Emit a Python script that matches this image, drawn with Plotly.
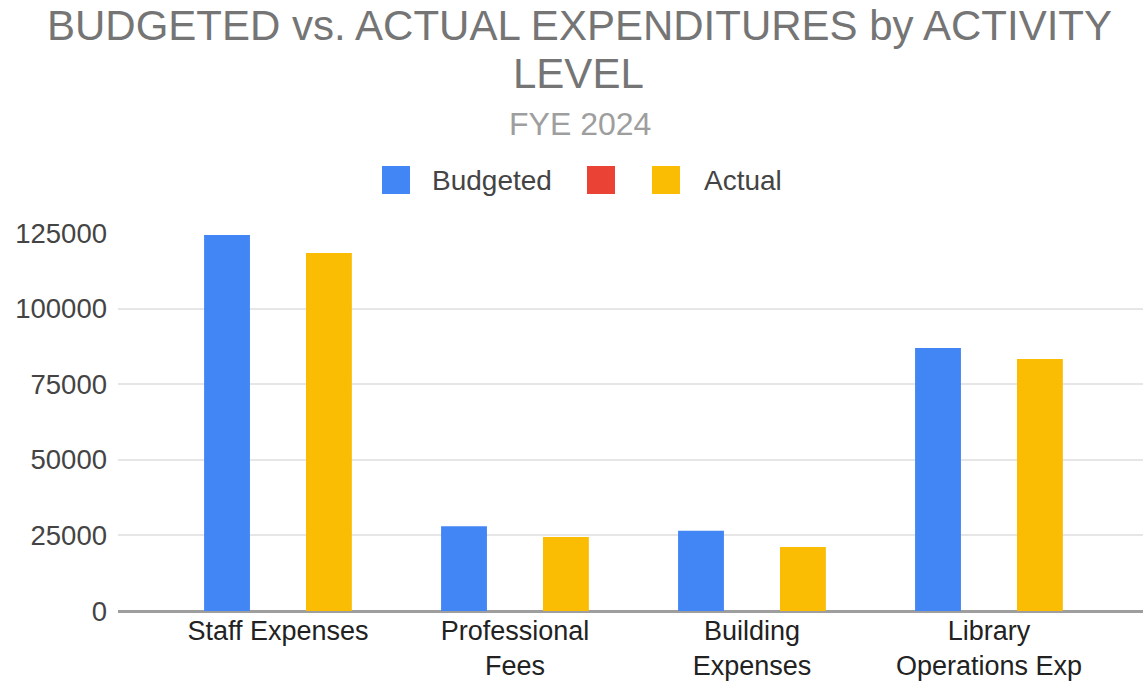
import plotly.graph_objects as go

categories = ["Staff Expenses", "Professional<br>Fees", "Building<br>Expenses", "Library<br>Operations Exp"]
budgeted = [124300, 28000, 26500, 87000]
blank_series = [0, 0, 0, 0]
actual = [118400, 24500, 21200, 83300]
y_ticks = [0, 25000, 50000, 75000, 100000, 125000]
series_names = ["Budgeted", "", "Actual"]
series_colors = ["#4285F4", "#EA4335", "#FBBC04"]

FONT = "Arial, Liberation Sans, sans-serif"

L, R, T, B = 118, 0, 233, 72
W, H = 1143, 683
PW, PH = W - L - R, H - T - B


def px(x):
    return (x - L) / PW


def py(y):
    return (H - B - y) / PH


fig = go.Figure()
for name, vals, col in zip(series_names, [budgeted, blank_series, actual], series_colors):
    fig.add_trace(go.Bar(x=categories, y=vals, name=name or " ",
                         marker=dict(color=col, line=dict(width=0)), showlegend=False))

# legend (drawn to match the large square swatches)
swatch_left = [382, 587, 652]
label_left = [430, None, 702]
shapes = []
annotations = []
for sl, ll, name, col in zip(swatch_left, label_left, series_names, series_colors):
    shapes.append(dict(type="rect", xref="paper", yref="paper",
                       x0=px(sl), x1=px(sl + 28), y0=py(194), y1=py(166),
                       fillcolor=col, line=dict(width=0), layer="above"))
    if ll is not None and name:
        annotations.append(dict(text=name, xref="paper", yref="paper", x=px(ll), y=py(180),
                                xanchor="left", yanchor="middle", showarrow=False,
                                font=dict(size=28, color="#444444", family=FONT)))

annotations += [
    dict(text="BUDGETED vs. ACTUAL EXPENDITURES by ACTIVITY", xref="paper", yref="paper",
         x=px(579), y=py(25), xanchor="center", yanchor="middle",
         showarrow=False, font=dict(size=42, color="#757575", family=FONT)),
    dict(text="LEVEL", xref="paper", yref="paper",
         x=px(578), y=py(74), xanchor="center", yanchor="middle",
         showarrow=False, font=dict(size=42, color="#757575", family=FONT)),
    dict(text="FYE 2024", xref="paper", yref="paper",
         x=px(580), y=py(124), xanchor="center", yanchor="middle",
         showarrow=False, font=dict(size=32, color="#9e9e9e", family=FONT)),
]

fig.update_layout(
    width=W, height=H,
    margin=dict(l=L, r=R, t=T, b=B),
    paper_bgcolor="white", plot_bgcolor="white",
    font=dict(family=FONT, size=27, color="#444444"),
    barmode="group", bargap=0.355, bargroupgap=0.1,
    showlegend=False,
    xaxis=dict(range=[-0.675, 3.65], showgrid=False, showline=False, zeroline=False,
               tickfont=dict(size=27, color="#222222"), ticks="", ticklabelstandoff=1,
               automargin=False),
    yaxis=dict(range=[0, 125000], tickvals=y_ticks, tickformat="d",
               showgrid=True, gridcolor="#e6e6e6", gridwidth=2,
               zeroline=True, zerolinecolor="#9e9e9e", zerolinewidth=3,
               showline=False, tickfont=dict(size=27.5, color="#444444"), ticks="",
               ticklabelstandoff=10, automargin=False),
    shapes=shapes,
    annotations=annotations,
)

fig.write_html("out.html")
